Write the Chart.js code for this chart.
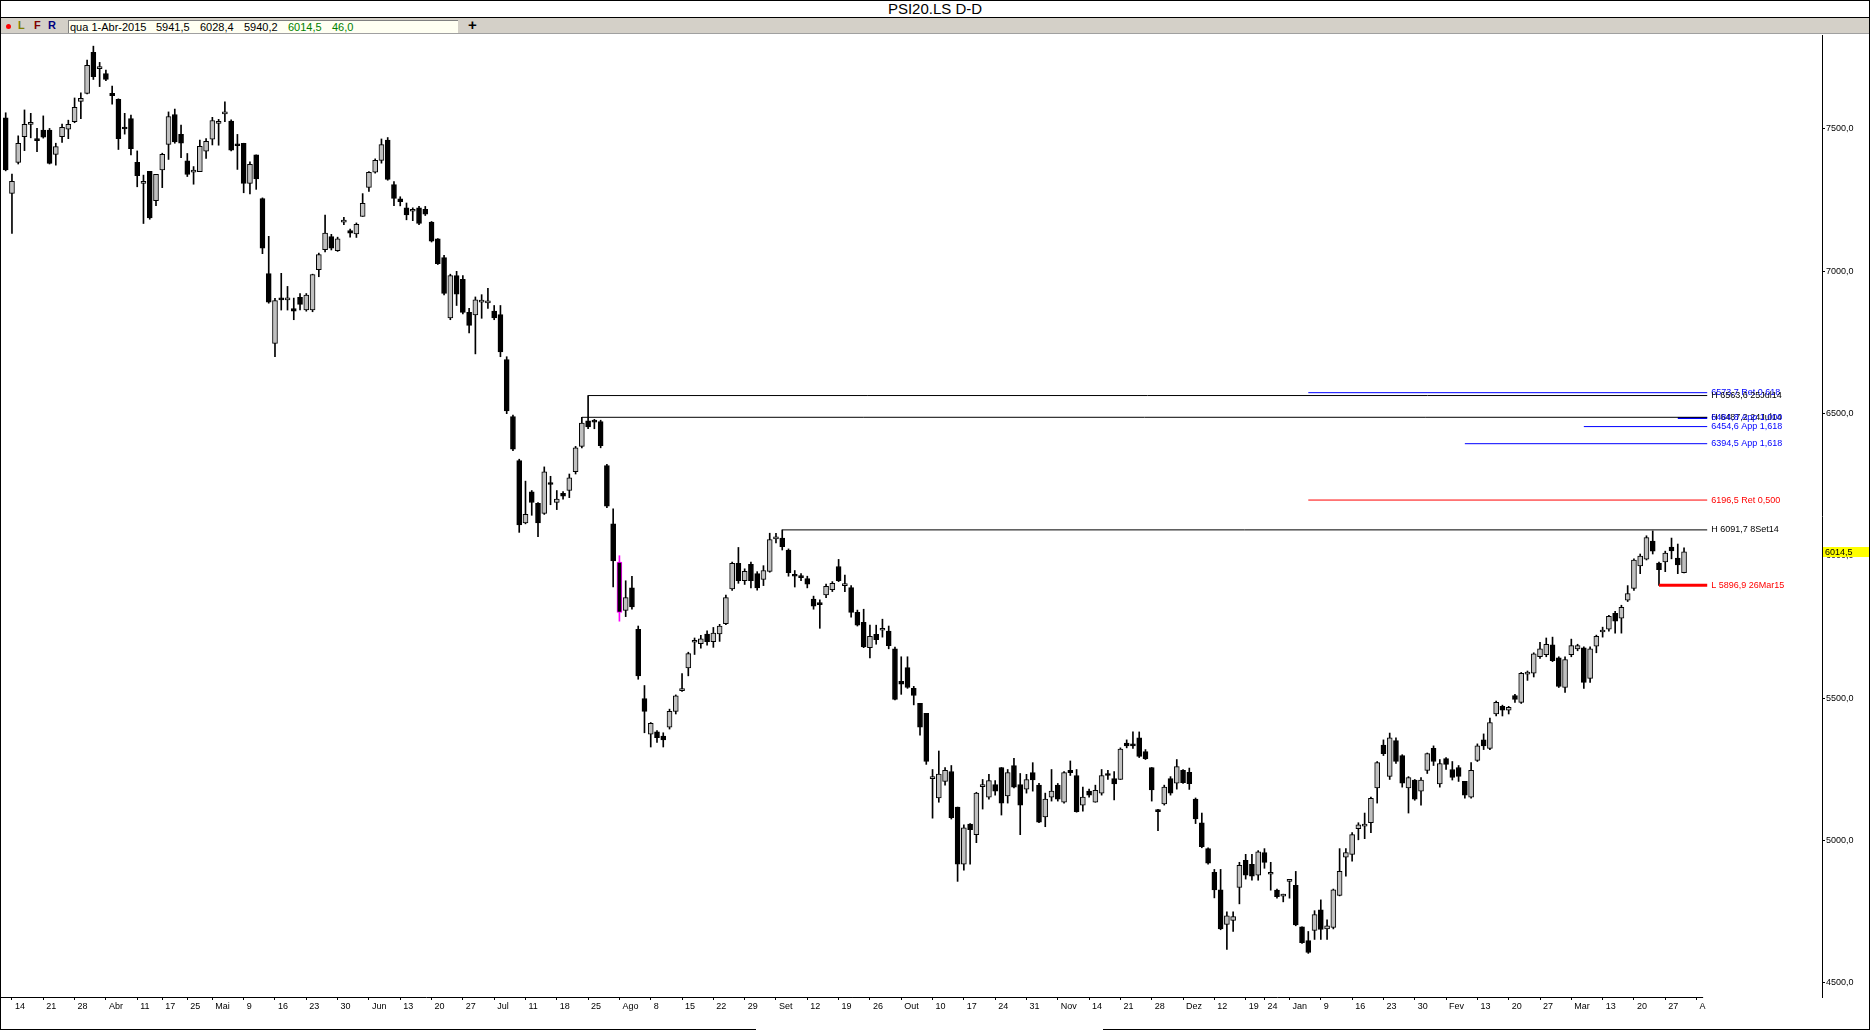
<!DOCTYPE html>
<html><head><meta charset="utf-8">
<script src="https://cdn.jsdelivr.net/npm/chart.js@4.4.1/dist/chart.umd.min.js"></script>
<style>
html,body{margin:0;padding:0;width:1870px;height:1030px;overflow:hidden;background:#fff;font-family:"Liberation Sans",Arial,sans-serif;}
#wrap{position:relative;width:1870px;height:1030px;background:#fff;}
#title{position:absolute;left:0;top:0;width:1870px;height:17px;line-height:18px;text-align:center;font-size:15px;color:#000;}
#tline{position:absolute;left:0;top:17px;width:1870px;height:1px;background:#000;}
#toolbar{position:absolute;left:0;top:18px;width:1870px;height:15px;background:#d4d0c8;}
#tbot{position:absolute;left:0;top:33px;width:1870px;height:1px;background:#a0a0a0;}
#dot{position:absolute;left:6px;top:6px;width:5px;height:5px;border-radius:50%;background:#ff0000;}
.ico{position:absolute;top:1px;font-size:11px;font-weight:bold;line-height:13px;}
#box{position:absolute;left:68px;top:2px;width:390px;height:13px;background:#fffff2;border-top:1px solid #808080;border-left:1px solid #808080;box-sizing:border-box;}
.bv{position:absolute;top:0;font-size:11px;line-height:12px;color:#000;white-space:nowrap;}
.g{color:#008000;}
#plus{position:absolute;left:468px;top:-1px;font-size:15px;font-weight:bold;line-height:16px;}
#c{position:absolute;left:0;top:35px;}
.b{position:absolute;background:#000;}
</style></head>
<body><div id="wrap">
<div id="title">PSI20.LS D-D</div>
<div id="tline"></div>
<div id="toolbar">
  <div id="dot"></div>
  <div class="ico" style="left:18px;color:#808000">L</div>
  <div class="ico" style="left:34px;color:#800000">F</div>
  <div class="ico" style="left:48px;color:#000080">R</div>
  <div id="box">
    <span class="bv" id="v0" style="left:1px"></span>
    <span class="bv" id="v1" style="left:87px"></span>
    <span class="bv" id="v2" style="left:131px"></span>
    <span class="bv" id="v3" style="left:175px"></span>
    <span class="bv g" id="v4" style="left:219px"></span>
    <span class="bv g" id="v5" style="left:263px"></span>
  </div>
  <div id="plus">+</div>
</div>
<div id="tbot"></div>
<canvas id="c" width="1870" height="995"></canvas>
<div class="b" style="left:0;top:0;width:1870px;height:1px"></div>
<div class="b" style="left:0;top:0;width:1px;height:1030px"></div>
<div class="b" style="left:1869px;top:0;width:1px;height:1030px"></div>
<div class="b" style="left:0;top:1029px;width:756px;height:1px"></div>
<div class="b" style="left:1103px;top:1029px;width:767px;height:1px"></div>
</div>
<script>
// ---------------- data (PSI20 daily, 13-Mar-2014 .. 1-Apr-2015) ----------------
const opens = [
7539,7274,7383,7473,7516,7461,7496,7496,7411,7473,
7499,7526,7597,7625,7769,7712,7695,7625,7604,7505,
7537,7383,7309,7351,7248,7356,7446,7551,7481,7388,
7348,7350,7422,7464,7520,7553,7528,7442,7450,7309,
7409,7256,6992,6747,6901,6900,6869,6909,6864,6864,
7006,7076,7122,7073,7173,7143,7131,7193,7295,7348,
7390,7461,7305,7255,7223,7211,7223,7218,7173,7114,
7048,6836,6985,6972,6856,6847,6892,6889,6860,6848,
6690,6490,6335,6116,6225,6185,6150,6255,6188,6220,
6230,6296,6385,6475,6474,6472,6318,6113,5979,5809,
5888,5742,5499,5374,5382,5367,5399,5454,5527,5607,
5697,5692,5726,5699,5726,5762,5884,5974,5913,5971,
5938,5918,5946,6060,6063,6021,5931,5925,5921,5849,
5830,5863,5882,5963,5896,5889,5802,5767,5678,5725,
5739,5736,5674,5560,5608,5535,5482,5447,5218,5150,
5208,5243,5118,4917,5058,5021,5190,5153,5197,5257,
5157,5264,5197,5181,5239,5195,5083,5153,5195,5135,
5247,5229,5125,5174,5135,5167,5232,5218,5215,5343,
5336,5361,5313,5257,5108,5129,5218,5202,5247,5240,
5146,5063,4972,4889,4827,4706,4720,4836,4931,4917,
4879,4958,4882,4826,4805,4857,4843,4697,4649,4685,
4757,4690,4695,4808,4942,4952,5042,5051,5063,5185,
5336,5226,5352,5299,5185,5213,5174,5247,5324,5199,
5288,5250,5257,5208,5153,5282,5354,5324,5445,5472,
5458,5510,5486,5585,5588,5646,5653,5688,5642,5538,
5653,5674,5677,5570,5683,5733,5743,5799,5782,5845,
5886,5965,5989,6052,5975,5979,6031,5993,5941.5];
const highs = [
7557,7342,7476,7567,7555,7502,7546,7502,7450,7517,
7531,7609,7627,7742,7791,7734,7707,7651,7606,7555,
7549,7423,7338,7351,7341,7415,7560,7570,7514,7414,
7368,7461,7466,7541,7534,7595,7532,7481,7450,7385,
7409,7258,7123,6905,6993,6947,6906,6922,6922,6990,
7064,7198,7130,7120,7190,7148,7170,7273,7350,7395,
7465,7470,7315,7262,7240,7223,7228,7228,7175,7115,
7056,6990,7000,6985,6870,6910,6918,6940,6880,6880,
6700,6495,6340,6263,6230,6188,6313,6280,6230,6226,
6288,6385,6487.2,6563.6,6480,6477,6322,6166,6001,5913,
5929,5754,5545,5415,5387,5379,5462,5512,5587,5662,
5712,5721,5737,5749,5760,5863,5979,6030,5955,5979,
5945,5966,6080,6080,6091.7,6025,5949,5938,5929,5859,
5846,5901,5910,5988,5933,5896,5810,5813,5757,5757,
5778,5754,5680,5646,5646,5542,5482,5447,5250,5315,
5257,5264,5118,5056,5060,5170,5215,5233,5211,5257,
5250,5289,5236,5233,5274,5201,5167,5250,5201,5243,
5280,5250,5188,5181,5195,5250,5247,5243,5326,5354,
5382,5382,5320,5257,5110,5195,5225,5285,5250,5255,
5150,5097,4975,4899,4899,4750,4750,4924,4952,4952,
4965,4972,4924,4830,4812,4862,4892,4697,4681,4754,
4792,4722,4830,4972,4972,5028,5063,5097,5153,5278,
5354,5378,5361,5302,5225,5215,5222,5308,5333,5285,
5292,5278,5264,5208,5274,5340,5375,5431,5490,5476,
5472,5514,5591,5596,5660,5697,5712,5715,5646,5646,
5708,5690,5681,5681,5722,5750,5792,5806,5827,5896,
5990,6007,6071,6088,5979,6017,6063,6042,6028.4];
const lows = [
7353,7133,7377,7424,7469,7420,7468,7377,7373,7453,
7466,7522,7536,7623,7674,7649,7670,7587,7428,7482,
7409,7297,7168,7183,7231,7294,7393,7450,7399,7333,
7306,7350,7397,7444,7443,7526,7423,7358,7276,7272,
7288,7062,6888,6700,6864,6864,6830,6864,6860,6858,
6981,7068,7075,7070,7164,7120,7119,7193,7281,7345,
7380,7320,7231,7230,7181,7178,7164,7196,7103,7024,
6917,6830,6880,6850,6784,6710,6835,6870,6830,6700,
6500,6370,6083,6113,6143,6068,6146,6180,6163,6200,
6205,6288,6380,6447,6447,6380,6170,5891,5771,5787,
5813,5567,5379,5329,5345,5329,5392,5445,5524,5579,
5654,5676,5687,5679,5700,5759,5879,5904,5900,5888,
5880,5896,5943,6046,6021,5929,5891,5913,5888,5813,
5746,5854,5875,5910,5875,5785,5754,5678,5642,5690,
5715,5674,5494,5514,5535,5477,5371,5268,5079,5135,
5195,5076,4857,4896,4917,4993,5111,5146,5160,5090,
5132,5185,5021,5167,5174,5063,5049,5139,5139,5132,
5229,5100,5104,5153,5135,5160,5215,5143,5215,5326,
5324,5292,5285,5139,5035,5125,5160,5181,5201,5180,
5060,4975,4917,4799,4687,4618,4681,4778,4865,4861,
4861,4903,4826,4798,4785,4798,4701,4639,4604,4653,
4653,4653,4690,4806,4875,4928,5003,5007,5028,5132,
5299,5215,5271,5188,5097,5142,5125,5236,5264,5188,
5250,5213,5208,5149,5149,5278,5320,5320,5438,5438,
5445,5486,5482,5563,5575,5640,5646,5629,5538,5521,
5646,5667,5535,5556,5660,5715,5736,5729,5729,5840,
5879,5938,5986,6007,5896.9,5945,5990,5938,5940.2];
const closes = [
7356,7316,7450,7516,7518,7459,7471,7379,7438,7506,
7516,7576,7608,7724,7684,7713,7674,7617,7466,7500,
7431,7336,7310,7188,7341,7411,7544,7455,7450,7340,
7356,7439,7457,7530,7521,7554,7426,7441,7309,7376,
7325,7081,6892,6897,6900,6901,6860,6884,6917,6989,
7059,7134,7081,7114,7174,7134,7165,7239,7348,7390,
7445,7323,7256,7245,7198,7212,7168,7201,7106,7027,
6922,6985,6920,6856,6810,6900,6893,6890,6836,6717,
6510,6375,6109,6146,6188,6116,6296,6251,6200,6210,
6275,6380,6467,6453,6470,6388,6175,5983,5802,5854,
5821,5579,5454,5412,5362,5354,5454,5509,5530,5657,
5700,5709,5699,5729,5754,5854,5974,5913,5946,5913,
5888,5949,6058,6063,6033,5941,5929,5924,5901,5824,
5829,5893,5904,5913,5897,5802,5757,5681,5718,5706,
5740,5685,5496,5550,5538,5510,5399,5278,5219,5234,
5247,5081,4917,5045,5039,5167,5191,5211,5174,5132,
5239,5188,5125,5215,5213,5065,5146,5174,5146,5239,
5239,5102,5153,5160,5177,5229,5229,5199,5322,5333,
5333,5296,5288,5178,5102,5188,5167,5260,5204,5200,
5076,4979,4921,4827,4690,4736,4733,4913,4879,4875,
4961,4924,4883,4803,4806,4858,4704,4642,4607,4740,
4688,4701,4827,4892,4958,5021,5056,5058,5149,5274,
5306,5361,5278,5202,5222,5146,5213,5306,5278,5271,
5268,5222,5226,5160,5247,5333,5333,5415,5486,5458,
5468,5496,5588,5590,5656,5674,5690,5632,5542,5636,
5685,5685,5556,5674,5718,5739,5788,5771,5820,5868,
5986,6000,6065,6017,5952,6010,6018,5968.5,6014.5];

// x tick positions (trading-day index) and their labels
const tickIndex = [1,6,11,16,21,25,29,33,38,43,48,53,58,63,68,73,78,83,88,93,98,
  103,108,113,118,123,128,133,138,143,148,153,158,163,168,173,178,183,188,193,198,201,
  205,210,215,220,225,230,235,240,245,250,255,260,265,270];
const tickLabels = ['14','21','28','Abr','11','17','25','Mai','9','16','23','30','Jun','13','20','27','Jul','11','18','25','Ago',
  '8','15','22','29','Set','12','19','26','Out','10','17','24','31','Nov','14','21','28','Dez','12','19','24',
  'Jan','9','16','23','30','Fev','13','20','27','Mar','13','20','27','A'];
const yTicks = [4500,5000,5500,6000,6500,7000,7500];

// horizontal study levels
const levelValues = [6573.7, 6563.6, 6487.2, 6484.8, 6454.6, 6394.5, 6196.5, 6091.7, 5896.9];
const levelStartIndex = [208, 93, 92, 267, 252, 233, 208, 124, 264];
const levelLabels = ['6573,7 Ret 0,618','H 6563,6 25Jul14','H 6487,2 24Jul14','6484,8 App 1,000',
  '6454,6 App 1,618','6394,5 App 1,618','6196,5 Ret 0,500','H 6091,7 8Set14','L 5896,9 26Mar15'];
const lastDateLabel = 'qua 1-Abr-2015';
const highlightIndex = 98;

// ---------------- styling / layout ----------------
const levelStyle = [
  {c:'#0000ff',w:1},{c:'#000000',w:1},{c:'#000000',w:1},{c:'#0000ff',w:2},{c:'#0000ff',w:1},
  {c:'#0000ff',w:1},{c:'#ff0000',w:1},{c:'#000000',w:1},{c:'#ff0000',w:3}];
const lineEndIndex = 271.7;
const axisEndIndex = 271.05;
const fmt = v => v.toFixed(1).replace('.', ',');

const n = closes.length;
document.getElementById('v0').textContent = lastDateLabel;
document.getElementById('v1').textContent = fmt(opens[n-1]);
document.getElementById('v2').textContent = fmt(highs[n-1]);
document.getElementById('v3').textContent = fmt(lows[n-1]);
document.getElementById('v4').textContent = fmt(closes[n-1]);
document.getElementById('v5').textContent = fmt(closes[n-1] - closes[n-2]);

const idx = closes.map((_, i) => i);
const wickDs = {
  type: 'bar', order: 3, grouped: false, barThickness: 1, borderWidth: 0,
  data: idx.map(i => ({x: i, y: [lows[i], highs[i]]})),
  backgroundColor: idx.map(i => i === highlightIndex ? '#ff00ff' : '#000000')
};
const bodyDs = {
  type: 'bar', order: 2, grouped: false, barThickness: 5, borderWidth: 1, borderSkipped: false, minBarLength: 2,
  data: idx.map(i => ({x: i, y: [opens[i], closes[i]]})),
  backgroundColor: idx.map(i => closes[i] > opens[i] ? '#c0c0c0' : '#000000'),
  borderColor: idx.map(i => i === highlightIndex ? '#ff00ff' : '#000000')
};
const levelDs = levelValues.map((v, k) => ({
  type: 'line', order: 1, data: [{x: levelStartIndex[k], y: v}, {x: lineEndIndex, y: v}],
  borderColor: levelStyle[k].c, borderWidth: levelStyle[k].w, pointRadius: 0, tension: 0, fill: false
}));

const overlay = {
  id: 'overlay',
  afterDatasetsDraw(chart) {
    const {ctx, chartArea} = chart;
    const x = chart.scales.x, y = chart.scales.y;
    ctx.save();
    ctx.strokeStyle = '#000'; ctx.lineWidth = 1;
    const yb = Math.round(chartArea.bottom) + 0.5;
    ctx.beginPath(); ctx.moveTo(chartArea.left, yb); ctx.lineTo(x.getPixelForValue(axisEndIndex), yb); ctx.stroke();
    ctx.font = '9px "Liberation Sans", Arial, sans-serif';
    ctx.textBaseline = 'middle'; ctx.textAlign = 'left';
    const tx = x.getPixelForValue(lineEndIndex) + 4;
    levelValues.forEach((v, k) => {
      ctx.fillStyle = levelStyle[k].c;
      ctx.fillText(levelLabels[k], tx, y.getPixelForValue(v));
    });
    ctx.restore();
  },
  afterDraw(chart) {
    const {ctx, chartArea} = chart;
    const y = chart.scales.y;
    const last = closes[n-1];
    const py = y.getPixelForValue(last);
    ctx.save();
    ctx.fillStyle = '#ffff00';
    ctx.fillRect(chartArea.right + 1, Math.round(py - 5), chart.width - chartArea.right - 2, 10);
    ctx.fillStyle = '#000';
    ctx.font = '9px "Liberation Sans", Arial, sans-serif';
    ctx.textBaseline = 'middle'; ctx.textAlign = 'left';
    ctx.fillText(fmt(last), chartArea.right + 3, Math.round(py - 5) + 5.5);
    ctx.restore();
  }
};

new Chart(document.getElementById('c'), {
  type: 'bar',
  data: {datasets: [wickDs, bodyDs, ...levelDs]},
  options: {
    responsive: false, animation: false, devicePixelRatio: 1, events: [],
    layout: {padding: {left: 1, right: 0, top: 0, bottom: 0}},
    plugins: {legend: {display: false}, tooltip: {enabled: false}},
    scales: {
      x: {
        type: 'linear', position: 'bottom', min: -0.7505, max: 290.03, offset: false,
        afterBuildTicks: s => { s.ticks = tickIndex.map(v => ({value: v})); },
        afterFit: s => { s.height = 33; s.paddingLeft = 0; s.paddingRight = 0; },
        ticks: {
          autoSkip: false, maxRotation: 0, minRotation: 0, align: 'start', labelOffset: 3, padding: 1,
          color: '#000', font: {family: '"Liberation Sans", Arial, sans-serif', size: 9},
          callback: v => tickLabels[tickIndex.indexOf(v)]
        },
        grid: {drawOnChartArea: false, drawTicks: true, tickLength: 3, color: '#000', offset: false},
        border: {display: false}
      },
      y: {
        type: 'linear', position: 'right', min: 4450.8, max: 7830.2,
        afterBuildTicks: s => { s.ticks = yTicks.map(v => ({value: v})); },
        afterFit: s => { s.width = 48; s.paddingTop = 0; s.paddingBottom = 0; },
        ticks: {
          padding: 1, color: '#000', font: {family: '"Liberation Sans", Arial, sans-serif', size: 9},
          callback: v => fmt(v)
        },
        grid: {drawOnChartArea: false, drawTicks: true, tickLength: 3, color: '#000'},
        border: {display: true, color: '#000', width: 1}
      }
    }
  },
  plugins: [overlay]
});
</script>
</body></html>
